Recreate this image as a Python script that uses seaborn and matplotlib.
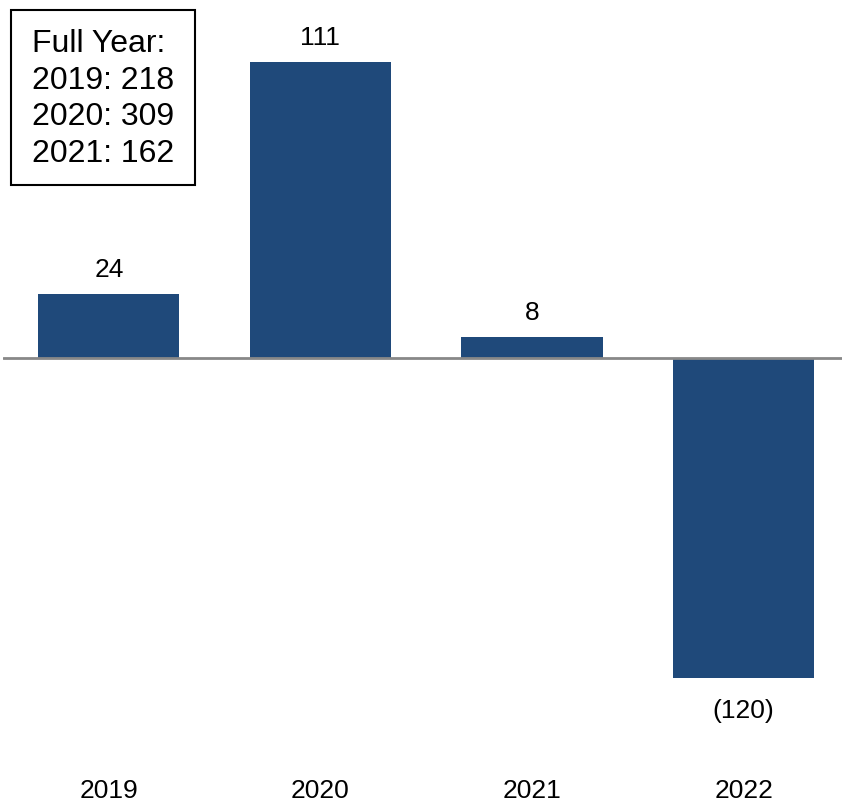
import matplotlib
matplotlib.use("Agg")
import matplotlib.pyplot as plt
from matplotlib.patches import Rectangle
import seaborn as sns
import pandas as pd

years = ["2019", "2020", "2021", "2022"]
values = [24, 111, 8, -120]
value_labels = ["24", "111", "8", "(120)"]
full_year_lines = ["Full Year:", "2019: 218", "2020: 309", "2021: 162"]

sns.set_theme(style="white")
plt.rcParams["font.family"] = ["Liberation Sans", "DejaVu Sans"]

df = pd.DataFrame({"year": years, "value": values})

fig = plt.figure(figsize=(8.42, 8.02), dpi=100)
ax = fig.add_axes([0.0036, 0, 0.9964, 1])

bar_color = "#1F497A"
sns.barplot(data=df, x="year", y="value", color=bar_color, width=0.667,
            saturation=1, ax=ax, errorbar=None)
for p in ax.patches:
    p.set_edgecolor("none")

ax.set_xlim(-0.5, 3.465)
ax.set_ylim(-166.5, 134.2)
ax.axhline(0, color="#888888", lw=2, zorder=3)

for i, (v, lab) in enumerate(zip(values, value_labels)):
    if v >= 0:
        ax.text(i, v + 9, lab, ha="center", va="center", fontsize=19, color="black")
    else:
        ax.text(i, v - 12.5, lab, ha="center", va="center", fontsize=19, color="black")
    ax.text(i, -162.5, years[i], ha="center", va="center", fontsize=19, color="black")

ax.set_axis_off()

# Summary box in the upper-left corner
W, H = 842, 802
fig.patches.append(Rectangle((11 / W, 1 - 185 / H), (195 - 11) / W, (185 - 10) / H,
                             transform=fig.transFigure, fill=False,
                             edgecolor="black", lw=1.5))
fig.text(32 / W, 1 - 99 / H, "\n".join(full_year_lines), ha="left", va="center",
         fontsize=23, linespacing=1.30, color="black")

fig.savefig("out.png", dpi=100)
